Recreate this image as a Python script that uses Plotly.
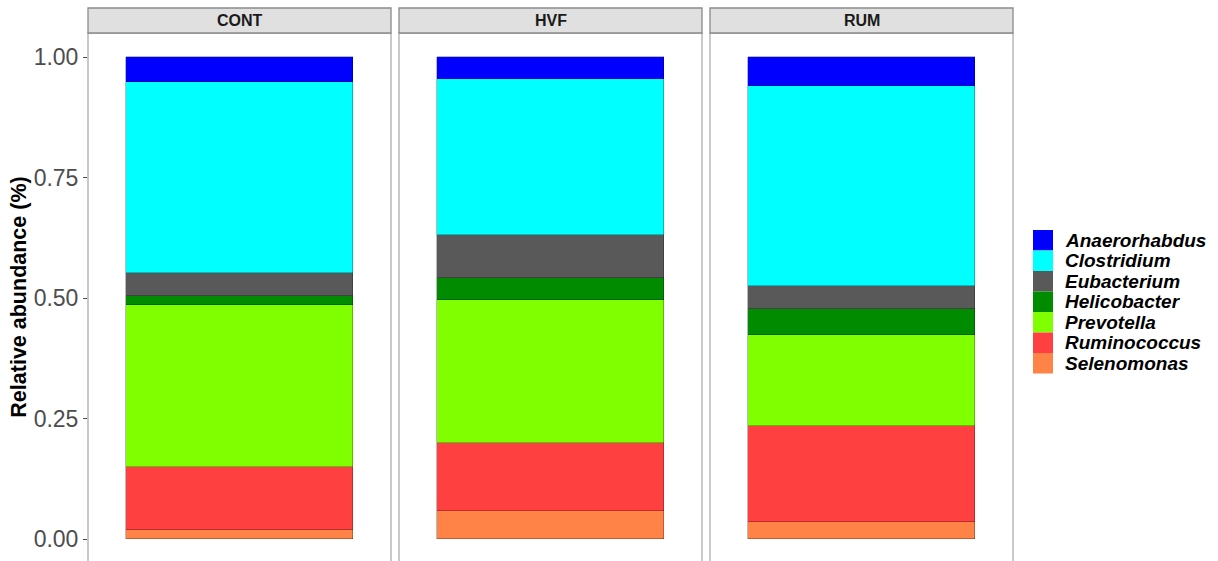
import plotly.graph_objects as go
from plotly.subplots import make_subplots

groups = ["CONT", "HVF", "RUM"]
genera = ["Anaerorhabdus", "Clostridium", "Eubacterium", "Helicobacter",
          "Prevotella", "Ruminococcus", "Selenomonas"]
colors = ["#0000FF", "#00FFFF", "#595959", "#008B00", "#7FFF00", "#FF4040", "#FF8247"]

# relative abundance per genus, values for CONT, HVF, RUM
anaerorhabdus = [0.051, 0.045, 0.059]
clostridium = [0.398, 0.324, 0.415]
eubacterium = [0.047, 0.089, 0.049]
helicobacter = [0.019, 0.046, 0.053]
prevotella = [0.336, 0.297, 0.190]
ruminococcus = [0.131, 0.140, 0.199]
selenomonas = [0.018, 0.059, 0.035]
values = [anaerorhabdus, clostridium, eubacterium, helicobacter,
          prevotella, ruminococcus, selenomonas]

y_ticks = [0, 0.25, 0.5, 0.75, 1.0]
y_ticklabels = ["0.00", "0.25", "0.50", "0.75", "1.00"]

W, H = 1218, 561
ML, MR, MT, MB = 88, W - 1013, 33, 0
PW, PH = W - ML - MR, H - MT - MB
gap = 8

fig = make_subplots(rows=1, cols=3, shared_yaxes=True,
                    horizontal_spacing=gap / PW)

# stack: last genus at bottom
for gi in range(len(genera) - 1, -1, -1):
    for ci, g in enumerate(groups):
        fig.add_trace(go.Bar(
            x=[g], y=[values[gi][ci]], name=genera[gi],
            marker=dict(color=colors[gi], line=dict(color="rgba(0,0,0,0.45)", width=0.6)),
            width=0.9, showlegend=False,
            hovertemplate=genera[gi] + ": %{y:.3f}<extra>" + g + "</extra>",
        ), row=1, col=ci + 1)

fig.update_layout(barmode="stack")

def px_x(px):
    return (px - ML) / PW

def px_y(py):
    return (H - MB - py) / PH

shapes = []
annotations = []
for ci, g in enumerate(groups):
    ax = "xaxis" if ci == 0 else f"xaxis{ci + 1}"
    fig.layout[ax].update(range=[-0.6, 0.6], showticklabels=False, ticks="",
                          showgrid=False, zeroline=False, showline=False)
    d0, d1 = fig.layout[ax].domain
    # panel border
    shapes.append(dict(type="rect", xref="paper", yref="paper", x0=d0, x1=d1,
                       y0=-0.02, y1=1, line=dict(color="#ADADAD", width=1.3),
                       fillcolor="rgba(0,0,0,0)", layer="above"))
    # strip
    shapes.append(dict(type="rect", xref="paper", yref="paper", x0=d0, x1=d1,
                       y0=1, y1=px_y(8), line=dict(color="#8A8A8A", width=1.3),
                       fillcolor="#E0E0E0"))
    annotations.append(dict(text="<b>" + g + "</b>", xref="paper", yref="paper",
                            x=(d0 + d1) / 2, y=(1 + px_y(8)) / 2, showarrow=False,
                            font=dict(size=16, color="#1A1A1A"),
                            xanchor="center", yanchor="middle"))

fig.update_yaxes(range=[-(H - MB - 539) / ((539 - MT) / 1.05), 1.05],
                 tickvals=y_ticks, ticktext=y_ticklabels, showgrid=False,
                 zeroline=False, showline=False, ticks="", ticklen=4,
                 tickcolor="#4D4D4D", tickwidth=1,
                 tickfont=dict(size=23, color="#4D4D4D"))
fig.update_yaxes(ticks="outside",
                 title=dict(text="<b>Relative abundance (%)</b>",
                            font=dict(size=21.5, color="#000000"), standoff=1),
                 row=1, col=1)

# legend (manual, ggplot style keys)
key_top = 230
key_h = 20.5
for gi, name in enumerate(genera):
    y0 = key_top + gi * key_h
    shapes.append(dict(type="rect", xref="paper", yref="paper",
                       x0=px_x(1033), x1=px_x(1053), y0=px_y(y0 + key_h), y1=px_y(y0),
                       fillcolor=colors[gi], line=dict(width=0)))
    annotations.append(dict(text="<b><i>" + name + "</i></b>", xref="paper", yref="paper",
                            x=px_x(1063), y=px_y(y0 + key_h / 2), showarrow=False,
                            xanchor="left", yanchor="middle",
                            font=dict(size=19, color="#000000")))

fig.update_layout(
    width=W, height=H,
    margin=dict(l=ML, r=MR, t=MT, b=MB),
    plot_bgcolor="white", paper_bgcolor="white",
    font=dict(family="Liberation Sans, Arial, sans-serif"),
    shapes=shapes, annotations=annotations,
    showlegend=False, bargap=0,
)

fig.write_html("out.html", config={"displayModeBar": False},
               post_script="document.body.style.margin='0';document.body.style.overflow='hidden';")
